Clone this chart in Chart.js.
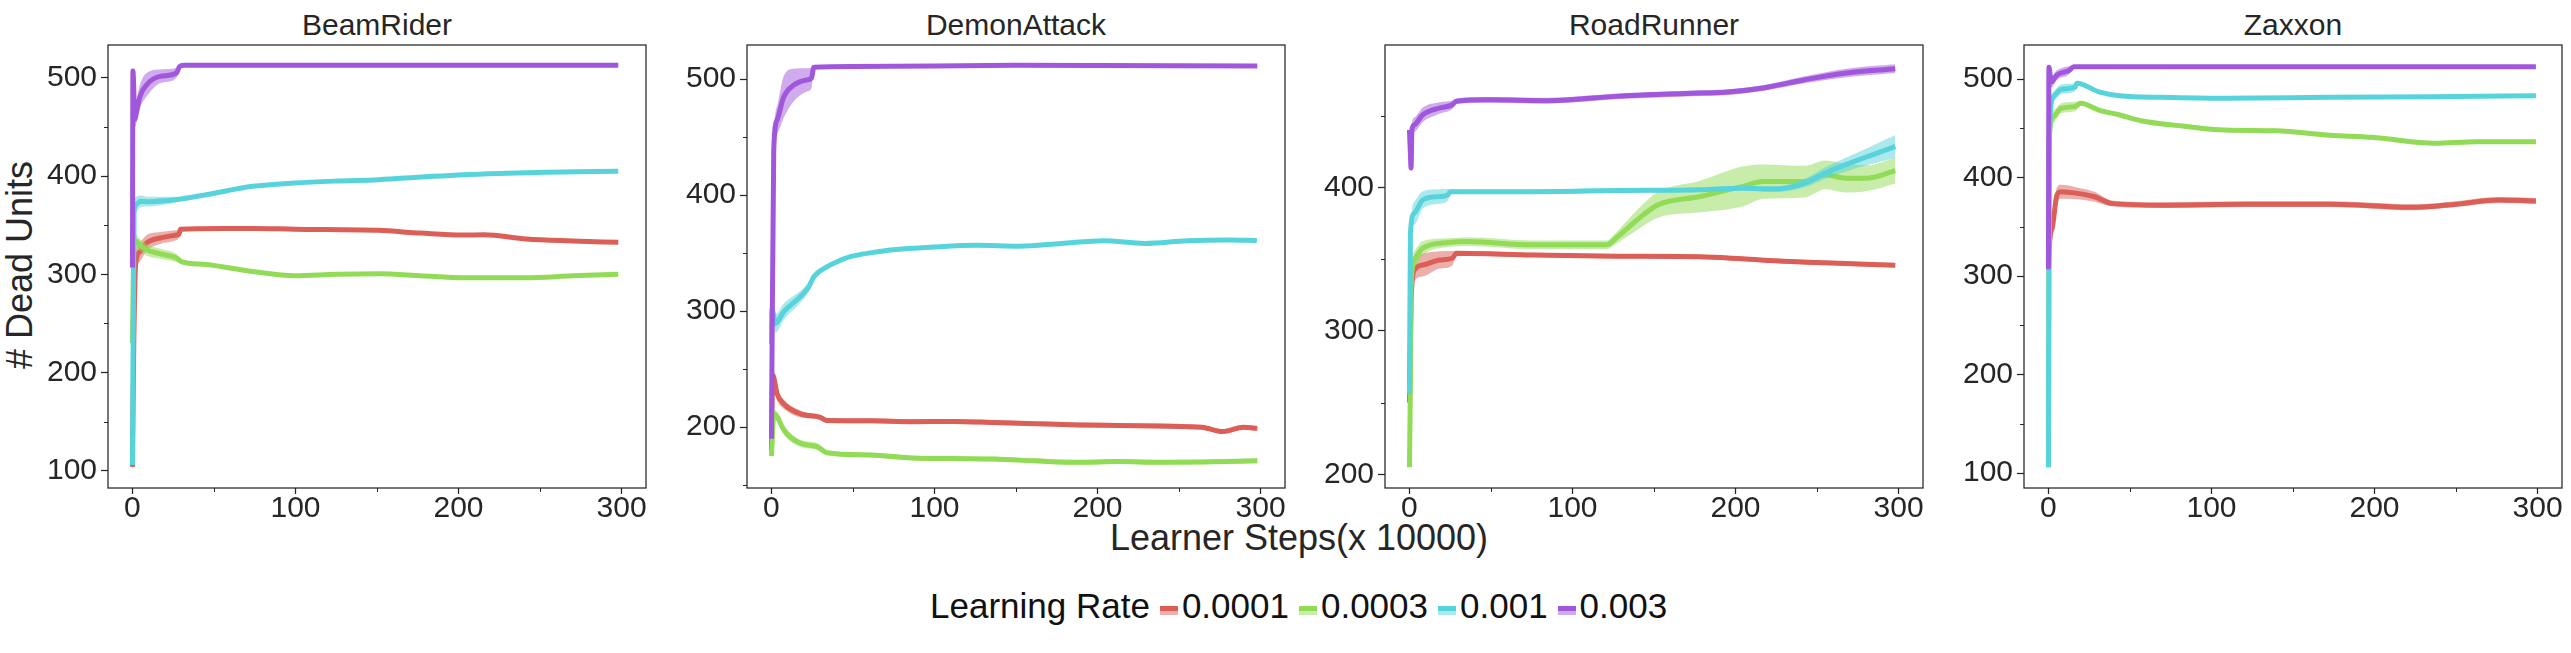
<!DOCTYPE html>
<html>
<head>
<meta charset="utf-8">
<script src="https://cdn.jsdelivr.net/npm/chart.js@4.4.0/dist/chart.umd.min.js"></script>
<style>
  html, body { margin:0; padding:0; background:#fff; }
  body { width:2571px; height:653px; position:relative; overflow:hidden;
         font-family:"Liberation Sans", Arial, sans-serif; color:#262626; }
  canvas { position:absolute; top:0; }
  .title { position:absolute; top:10px; width:400px; text-align:center; font-size:30px; line-height:30px; }
  #xlabel { position:absolute; left:999px; top:520px; width:600px; text-align:center; font-size:36px; line-height:36px; }
  #ylabel { position:absolute; left:-130px; top:247px; width:300px; height:36px; text-align:center;
            font-size:36px; line-height:36px; transform:rotate(-90deg); }
  #legend { position:absolute; left:930px; top:588px; display:flex; align-items:flex-start;
            font-size:35px; line-height:35px; color:#111; white-space:nowrap; }
  .patch { width:18px; height:9px; margin:18px 4px 0 10px; }
</style>
</head>
<body>
<div id="xlabel">Learner Steps(x 10000)</div>
<div id="ylabel"># Dead Units</div>
<div id="legend"><span>Learning Rate</span></div>
<script>
// data
const games = ['BeamRider', 'DemonAttack', 'RoadRunner', 'Zaxxon'];
const rates = ['0.0001', '0.0003', '0.001', '0.003'];

// each point: [learner step (x 10000), mean # dead units, half width of shaded band]
const beamRider0001 = [[0,104,0],[0.8,228,8],[2,311,12],[4.6,323,10],[8.7,332,8],[17,337,6],[27,340,5],[28.5,341,4],[29.5,346,2],[40,346.5,1.5],[73.7,346.8,1.5],[99.5,346,1.5],[151,344.8,1.5],[176.8,342,1.5],[202.8,340,1.5],[215.6,340.3,1.5],[241.5,336,1.5],[270,334,1.5],[298,332.6,1.5]];
const beamRider0003 = [[0,230,0],[1,335,8],[4.6,330,6],[8.7,325,6],[17,321,5],[27,316.7,4],[30,313,2],[45.3,310,1.5],[73.7,303,1.5],[99.5,298.7,1.5],[125,300,1.5],[151,300.6,1.5],[176.8,298.7,1.5],[202.8,296.6,1.5],[241.5,296.6,1.5],[270,298.5,1.5],[298,300,1.5]];
const beamRider001 = [[0,106,0],[1,365,10],[2,371,8],[5,374.4,6],[10,374,5],[20,375,4],[29.8,376.8,2],[45,381,1.5],[73.7,389.6,1.5],[99.5,393,1.5],[125,395,1.5],[151,396.4,1.5],[176.8,399,1.5],[202.8,401.5,1.5],[230,403,1.5],[254,404,1.5],[298,404.9,1.5]];
const beamRider003 = [[0,307,0],[0.3,507,0],[1.5,458,8],[2.1,462,10],[4.6,481,12],[8.7,493,12],[16.9,501.6,7],[27,505,5],[29,511.8,2],[32,512.8,1],[100,512.8,0.8],[200,512.8,0.8],[298,512.8,0.8]];

const demonAttack0001 = [[0,180,0],[0.8,245,5],[1.4,243,5],[3.5,228.7,5],[7.6,220,4],[17.8,211.5,3],[30,208.5,2],[34,205.7,2],[61,205.5,2],[86.3,204.8,2],[111.7,205,2],[137,204,2],[162,203,2],[188,202,2],[213,201.5,2],[238.7,201,2],[264,200,2],[276.8,196.3,2],[289.5,200,2],[298,199,2]];
const demonAttack0003 = [[0,175,0],[0.5,189,0],[1.4,211.8,4],[3.5,209,4],[7.6,197.6,4],[17.8,186.1,3],[28,183.3,3],[34,178,2],[61,176,2],[86.3,173.5,2],[111,173,2],[137,172.5,2],[162,171,2],[188,169.7,2],[213,170.5,2],[238.7,169.7,2],[264,170,2],[298,171,2]];
const demonAttack001 = [[0,272,0],[0.3,302,0],[2.5,289.5,8],[7.6,299.7,7],[17.8,312.6,5],[22.9,321,4],[26,329.7,2],[34,338.3,1.5],[40,342.5,1.5],[48.4,347,1.5],[61.6,350.5,1.5],[74.5,353,1.5],[100,355.4,1.5],[126,356.8,1.5],[152,356,1.5],[177.7,358.4,1.5],[203.5,360.8,1.5],[229,358.4,1.5],[255,360.8,1.5],[280.6,361.5,1.5],[297.7,361,1.5]];
const demonAttack003 = [[0,190,0],[1.4,439,5],[3.5,465,12],[7.6,485,18],[13.7,495,14],[21.9,499.4,10],[24.5,500.9,9],[26,510.3,1],[50,511,0.8],[150,512,0.8],[298,511.5,0.8]];

const roadRunner0001 = [[0,250,0],[1,320,10],[3,342.4,8],[8.2,345.9,8],[18.5,349.4,6],[26.3,350.6,5],[28.8,354.1,1.5],[75,352.9,1.5],[126.7,352,1.5],[178.3,351.6,1.5],[204,350.2,1.5],[229.6,348.5,1.5],[255,347.4,1.5],[298,345.8,1.5]];
const roadRunner0003 = [[0,205,0],[0.6,265,0],[1,330,6],[3,349.4,6],[8.2,357.6,5],[23.6,361.5,3],[36,362.2,3],[75,360,3],[100.6,360,3],[121,360,3],[126.7,364.6,4],[139.6,377.3,7],[152.4,387.8,9],[178.3,393.6,11],[204,400.5,14],[217,404,12],[242.5,404,11],[255,408.7,10],[268,406.4,10],[281,406.4,9],[298,411.7,9]];
const roadRunner001 = [[0,256,0],[0.6,368,0],[3,382,8],[8.2,391.3,6],[18.5,393.6,5],[23.6,394.8,4],[25,397,1.5],[75,397,1.5],[127,397.8,1.5],[178,398.3,1.5],[204,399.4,1.5],[224,398.8,2],[242.5,403,3],[255,410,4],[281,421.5,6],[298,428.5,8]];
const roadRunner003 = [[0,440,0],[0.5,426,0],[1,413.4,0],[1.5,440,4],[3,443.6,5],[8.2,450.6,5],[18.5,455.3,4],[26.3,457.6,3],[28.8,460,2],[49.4,461,2],[85.5,460.4,2],[126.7,463.4,2],[178.3,465.7,2],[193.6,466.2,2],[216.8,469.2,2],[242.5,475,2.5],[268,479.7,3],[298,482.7,3]];

const zaxxon0001 = [[0,310,0],[1,340,8],[2.5,350,10],[5.2,382.2,8],[7.7,385.6,7],[17.5,384,6],[28.3,380.5,5],[38.6,373.8,3],[69.6,372,3],[121,373,3],[172.8,373,3],[198.5,371.4,3],[224,369.8,3],[250,373,3],[276,377.2,3],[299,376.2,3]];
const zaxxon0003 = [[0,106,0],[0.5,440,0],[3,461.7,6],[7.7,470.3,5],[16.2,472,5],[19.8,475.4,2],[30.9,468.5,2],[43.8,463.5,2],[56.7,457.7,2],[82.5,452.3,2],[108,448.2,2],[139.4,447.5,2],[172.8,443,2],[198.5,440.8,2],[237,434.7,2],[263,436.3,2],[299,436.3,2]];
const zaxxon001 = [[0,106,0],[0.5,440,0],[3,482,5],[7.7,489.5,5],[16.2,491.6,4],[17.5,495.6,2],[30.9,487,1.5],[43.8,483,1.5],[69.6,481.4,1.5],[108,480.4,1.5],[172.8,481.4,1.5],[237,482,1.5],[299,483,1.5]];
const zaxxon003 = [[0,307,0],[0.3,512,0],[1.7,497,6],[5.2,504,5],[12.9,509,4],[15.5,512.5,1],[100,512.5,0.8],[200,512.5,0.8],[299,512.5,0.8]];

const seriesByGame = [
  [beamRider0001, beamRider0003, beamRider001, beamRider003],
  [demonAttack0001, demonAttack0003, demonAttack001, demonAttack003],
  [roadRunner0001, roadRunner0003, roadRunner001, roadRunner003],
  [zaxxon0001, zaxxon0003, zaxxon001, zaxxon003]
];

// axes
const xTicks = [0, 100, 200, 300];
const xMinor = [50, 150, 250];
const xRange = [-15, 315];
const yRanges = [[82.5, 533.5], [147.6, 529.5], [190.5, 499.2], [85, 534.5]];
const yTicks = [[100, 200, 300, 400, 500], [200, 300, 400, 500], [200, 300, 400], [100, 200, 300, 400, 500]];
const yMinor = [[150, 250, 350, 450], [150, 250, 350, 450], [250, 350, 450], [150, 250, 350, 450]];

// look
const colors = ['#db5f57', '#91db57', '#57d3db', '#a157db'];
const ink = '#262626';
const family = '"Liberation Sans", Arial, sans-serif';
const plotLefts = [108, 747, 1385, 2024];
const plotW = 538, axisW = 100, padR = 14, canvasH = 545, plotBottom = 488;

function rgba(hex, a) {
  const n = parseInt(hex.slice(1), 16);
  return `rgba(${n >> 16},${(n >> 8) & 255},${n & 255},${a})`;
}

// frame box + short minor ticks
const framePlugin = {
  id: 'frame',
  afterDraw(chart, args, opts) {
    const {ctx, chartArea: a, scales} = chart;
    ctx.save();
    ctx.strokeStyle = ink;
    ctx.lineWidth = 1.25;
    ctx.strokeRect(a.left, a.top, a.right - a.left, a.bottom - a.top);
    ctx.lineWidth = 1;
    ctx.beginPath();
    opts.x.forEach(v => {
      const px = Math.round(scales.x.getPixelForValue(v)) + 0.5;
      ctx.moveTo(px, a.bottom); ctx.lineTo(px, a.bottom + 4);
    });
    opts.y.forEach(v => {
      const py = Math.round(scales.y.getPixelForValue(v)) + 0.5;
      ctx.moveTo(a.left, py); ctx.lineTo(a.left - 4, py);
    });
    ctx.stroke();
    ctx.restore();
  }
};

function buildDatasets(series) {
  const out = [];
  const common = { pointRadius: 0, cubicInterpolationMode: 'monotone' };
  // purple first: chart.js paints the first dataset last
  for (let k = series.length - 1; k >= 0; k--) {
    const s = series[k], c = colors[k];
    out.push({ ...common, label: rates[k], data: s.map(p => ({x: p[0], y: p[1]})),
               borderColor: c, borderWidth: 5, fill: false });
    out.push({ ...common, data: s.map(p => ({x: p[0], y: p[1] + p[2]})), borderColor: 'transparent',
               borderWidth: 0, backgroundColor: rgba(c, 0.5), fill: '+1' });
    out.push({ ...common, data: s.map(p => ({x: p[0], y: p[1] - p[2]})), borderColor: 'transparent',
               borderWidth: 0, fill: false });
  }
  return out;
}

const charts = [];
games.forEach((g, i) => {
  const t = document.createElement('div');
  t.className = 'title';
  t.textContent = g;
  t.style.left = (plotLefts[i] + plotW / 2 - 200) + 'px';
  document.body.appendChild(t);

  const cv = document.createElement('canvas');
  cv.width = axisW + plotW + padR;
  cv.height = canvasH;
  cv.style.left = (plotLefts[i] - axisW) + 'px';
  document.body.appendChild(cv);

  const tickFont = {family: family, size: 30, lineHeight: 1};
  charts.push(new Chart(cv.getContext('2d'), {
    type: 'line',
    data: { datasets: buildDatasets(seriesByGame[i]) },
    options: {
      responsive: false, animation: false, devicePixelRatio: 1,
      layout: { padding: {top: 45, right: padR, bottom: 0, left: 0} },
      plugins: { legend: {display: false}, tooltip: {enabled: false}, title: {display: false},
                 frame: {x: xMinor, y: yMinor[i]} },
      scales: {
        x: {
          type: 'linear', min: xRange[0], max: xRange[1],
          afterBuildTicks: s => { s.ticks = xTicks.map(v => ({value: v})); },
          afterFit: s => { s.height = canvasH - plotBottom; },
          grid: { drawOnChartArea: false, tickLength: 6, tickColor: ink, tickWidth: 1.25 },
          border: { display: false },
          ticks: { font: tickFont, color: ink, padding: 0, maxRotation: 0, autoSkip: false, callback: v => String(v) }
        },
        y: {
          type: 'linear', min: yRanges[i][0], max: yRanges[i][1],
          afterBuildTicks: s => { s.ticks = yTicks[i].map(v => ({value: v})); },
          afterFit: s => { s.width = axisW; },
          grid: { drawOnChartArea: false, tickLength: 7, tickColor: ink, tickWidth: 1.25 },
          border: { display: false },
          ticks: { font: tickFont, color: ink, padding: 4, autoSkip: false, callback: v => String(v) }
        }
      }
    },
    plugins: [framePlugin]
  }));
});

// figure legend
const legend = document.getElementById('legend');
rates.forEach((r, k) => {
  const p = document.createElement('span');
  p.className = 'patch';
  p.style.background = `linear-gradient(${colors[k]} 0 55%, ${rgba(colors[k], 0.5)} 55% 100%)`;
  legend.appendChild(p);
  const s = document.createElement('span');
  s.textContent = r;
  legend.appendChild(s);
});
</script>
</body>
</html>
